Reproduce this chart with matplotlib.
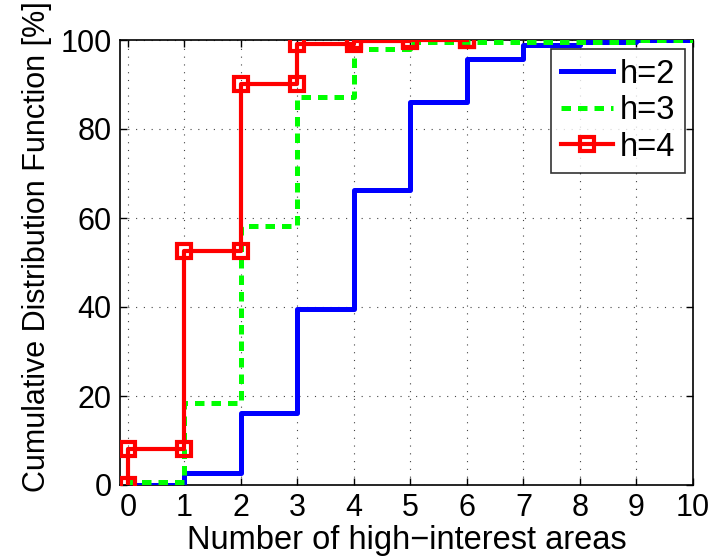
import matplotlib
matplotlib.use("Agg")
import matplotlib.pyplot as plt
import numpy as np

plt.rcParams['font.family'] = ['Liberation Sans', 'DejaVu Sans']

# step levels at x = 0, 1, 2, ...
x_h2 = [0, 1, 2, 3, 4, 5, 6, 7, 8, 9, 10]
y_h2 = [0, 2.6, 16.2, 39.6, 66.4, 86.0, 95.7, 98.9, 99.5, 100, 100]
x_h3 = [0, 1, 2, 3, 4, 5, 6, 7, 8, 9, 10]
y_h3 = [0.6, 18.4, 58.2, 87.3, 98.0, 99.6, 99.6, 99.6, 99.6, 100, 100]
x_h4 = [0, 1, 2, 3, 4, 5, 6]
y_h4 = [8.1, 52.5, 90.2, 99.1, 99.8, 100, 100]
labels = ['h=2', 'h=3', 'h=4']
xticks = list(range(0, 11))
yticks = [0, 20, 40, 60, 80, 100]


def stair_vertices(x, y):
    xs = [x[0]]
    ys = [0]
    for i in range(len(x)):
        xs.append(x[i]); ys.append(y[i])
        if i + 1 < len(x):
            xs.append(x[i + 1]); ys.append(y[i])
    return xs, ys


fig = plt.figure(figsize=(7.12, 5.57), dpi=100)
ax = fig.add_axes([120 / 712, 1 - 485 / 557, (693 - 120) / 712, (485 - 40) / 557])

xs, ys = stair_vertices(x_h2, y_h2)
ax.plot(xs, ys, color='#0000ff', lw=3.6, label=labels[0], zorder=3)
xs, ys = stair_vertices(x_h3, y_h3)
ax.plot(xs, ys, color='#00ff00', lw=3.6, ls=(0, (1.9, 1.4)), label=labels[1], zorder=3)
xs, ys = stair_vertices(x_h4, y_h4)
ax.plot(xs, ys, color='#ff0000', lw=3.0, marker='s', ms=10, mfc='none', mec='#ff0000',
        mew=3.0, label=labels[2], zorder=4)

ax.set_xlim(-0.14, 10)
ax.set_ylim(0, 100)
ax.set_xticks(xticks)
ax.set_yticks(yticks)
ax.tick_params(direction='in', top=True, right=True, labelsize=22, length=5, width=1, pad=6)
ax.grid(True, ls=(0, (1, 6)), color='#444444', lw=0.8)
for s in ax.spines.values():
    s.set_linewidth(1.2)
ax.set_xlabel('Number of high\u2212interest areas', fontsize=23.5, labelpad=1)
ax.set_ylabel('Cumulative Distribution Function [%]', fontsize=22)
ax.yaxis.set_label_coords(-0.119, 0.535)

leg = ax.legend(loc='upper right', fontsize=23.5, frameon=True, fancybox=False, edgecolor='black',
                handlelength=1.6, handletextpad=0.2, borderpad=0.3, labelspacing=0.17,
                borderaxespad=0, bbox_to_anchor=(0.986, 0.980))
leg.get_frame().set_linewidth(1.2)

fig.savefig('out.png', dpi=100)
